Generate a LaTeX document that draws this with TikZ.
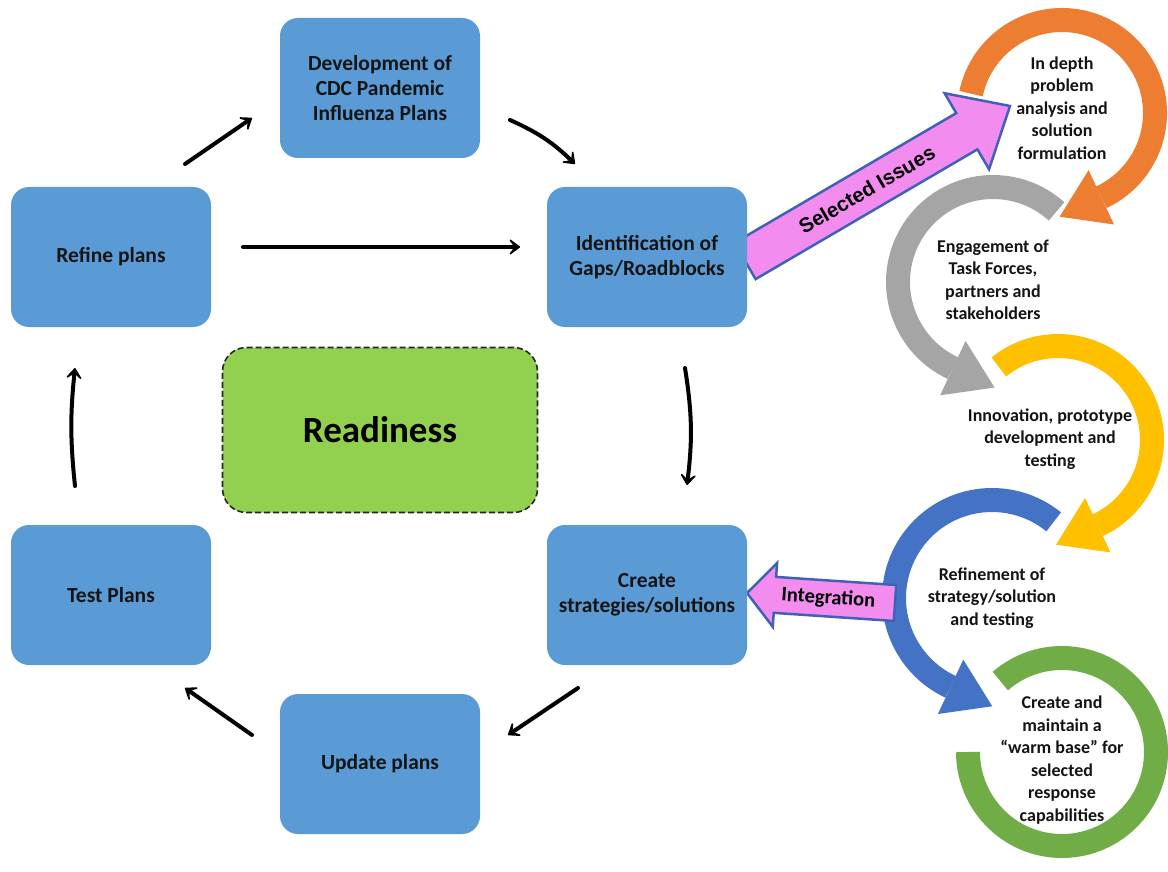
\documentclass[tikz,border=0pt]{standalone}
\usepackage{fontspec}
\setmainfont{Carlito}
\newfontfamily\arialfont{Liberation Sans}
\usetikzlibrary{arrows.meta,calc}
\definecolor{boxblue}{HTML}{5B9BD5}
\definecolor{readygreen}{HTML}{92D050}
\definecolor{ringorange}{HTML}{ED7D31}
\definecolor{ringgray}{HTML}{A5A5A5}
\definecolor{ringyellow}{HTML}{FFC000}
\definecolor{ringblue}{HTML}{4472C4}
\definecolor{ringgreen}{HTML}{70AD47}
\definecolor{pinkfill}{HTML}{F28CEE}
\definecolor{pinkline}{HTML}{3F62B8}
\definecolor{txt}{HTML}{141414}
\newcommand{\ringarrow}[6]{%
  \pgfmathsetmacro\myrin{#4-30}%
  \pgfmathsetmacro\myrout{#4+30}%
  \pgfmathsetmacro\mytang{#5#6}%
  \draw[#1, line width=24pt] ($(#2)+(#3:#4)$) arc[start angle=#3, end angle=#5, radius=#4];
  \fill[#1] ($(#2)+(#5:\myrin)$) -- ($(#2)+(#5:\myrout)$) -- ($(#2)+(#5:#4)+(\mytang:46)$) -- cycle;
}
\tikzset{
  stagebox/.style={fill=boxblue, rounded corners=18pt, minimum width=200pt, minimum height=140pt,
    align=center, text=txt, font=\fontsize{21.5}{25}\selectfont\bfseries},
  ctext/.style={align=center, text=txt, font=\fontsize{18}{22.5}\selectfont\bfseries},
  flow/.style={line width=4pt, line cap=round, -{Stealth[length=14pt,width=21pt,inset=8pt,round]}},
  pinkarrow/.style={fill=pinkfill, draw=pinkline, line width=2.5pt, line join=miter}
}
\begin{document}
\begin{tikzpicture}[x=1pt,y=-1pt]
\useasboundingbox[fill=white] (0,0) rectangle (1168,872);

% ring arrows
\coordinate (oc) at (1062,113);
\coordinate (gc) at (993,282);
\coordinate (yc) at (1058,440);
\coordinate (bc) at (992,598);
\coordinate (grc) at (1062,752);
\ringarrow{ringorange}{oc}{-168}{93}{65}{+90}
\ringarrow{ringgray}{gc}{-48}{95}{-245}{-90}
\ringarrow{ringyellow}{yc}{-129}{94}{65}{+90}
\ringarrow{ringblue}{bc}{-51}{98}{-245}{-90}
\draw[ringgreen, line width=24pt] ($(grc)+(-131:94)$) arc[start angle=-131, end angle=180, radius=94];

\node[ctext] (t1) at (1062,108) {In depth\\problem\\analysis and\\solution\\formulation};
\node[ctext] (t2) at (993,280) {Engagement of\\Task Forces,\\partners and\\stakeholders};
\node[ctext] (t3) at (1050,439) {Innovation, prototype\\development and\\testing};
\node[ctext] (t4) at (992,598) {Refinement of\\strategy/solution\\and testing};
\node[ctext] (t5) at (1062,760) {Create and\\maintain a\\“warm base” for\\selected\\response\\capabilities};

% pink arrows
\coordinate (siA) at (745,261);
\coordinate (siB) at (1010,106);
\coordinate (siH) at ($(siB)!50pt!(siA)$);
\filldraw[pinkarrow] ($(siA)!21pt!90:(siB)$) -- ($(siH)!21pt!90:(siB)$) -- ($(siH)!44pt!90:(siB)$)
  -- (siB) -- ($(siH)!44pt!-90:(siB)$) -- ($(siH)!21pt!-90:(siB)$) -- ($(siA)!21pt!-90:(siB)$) -- cycle;
\node[rotate=30.3, font=\arialfont\fontsize{20.5}{21}\selectfont\bfseries, text=black] (sel) at ($(siA)!0.46!(siB)$) {Selected Issues};

\coordinate (inA) at (895,603);
\coordinate (inB) at (747,593);
\coordinate (inH) at ($(inB)!28pt!(inA)$);
\filldraw[pinkarrow] ($(inA)!18pt!90:(inB)$) -- ($(inH)!18pt!90:(inB)$) -- ($(inH)!32pt!90:(inB)$)
  -- (inB) -- ($(inH)!32pt!-90:(inB)$) -- ($(inH)!18pt!-90:(inB)$) -- ($(inA)!18pt!-90:(inB)$) -- cycle;
\node[rotate=-3.8, font=\fontsize{20.5}{22}\selectfont\bfseries, text=black] (integ) at ($(inA)!0.45!(inB)$) {Integration};

% stage boxes
\node[stagebox] (dev) at (380,88) {Development of\\CDC Pandemic\\Influenza Plans};
\node[stagebox] (refine) at (111,257) {Refine plans};
\node[stagebox] (ident) at (647,257) {Identification of\\Gaps/Roadblocks};
\node[stagebox] (test) at (111,595) {Test Plans};
\node[stagebox] (create) at (647,595) {Create\\strategies/solutions};
\node[stagebox] (update) at (380,764) {Update plans};
\node[draw=black!85, dashed, dash pattern=on 6pt off 3pt, line width=1.6pt, fill=readygreen, rounded corners=24pt,
  minimum width=315pt, minimum height=165pt, font=\fontsize{37}{40}\selectfont\bfseries] (ready) at (380,430) {Readiness};

% cycle arrows
\coordinate (a1s) at (185,164); \coordinate (a1e) at (252,118);
\coordinate (a2s) at (510,120); \coordinate (a2e) at (575,164);
\coordinate (a3s) at (243,247); \coordinate (a3e) at (520,247);
\coordinate (a4s) at (685,368); \coordinate (a4e) at (687,485);
\coordinate (a5s) at (578,688); \coordinate (a5e) at (508,735);
\coordinate (a6s) at (252,735); \coordinate (a6e) at (185,688);
\coordinate (a7s) at (75,486); \coordinate (a7e) at (75,368);
\draw[flow] (a1s) -- (a1e);
\draw[flow] (a2s) to[bend left=10] (a2e);
\draw[flow] (a3s) -- (a3e);
\draw[flow] (a4s) to[bend left=8] (a4e);
\draw[flow] (a5s) -- (a5e);
\draw[flow] (a6s) -- (a6e);
\draw[flow] (a7s) to[bend left=6] (a7e);
\end{tikzpicture}
\end{document}
